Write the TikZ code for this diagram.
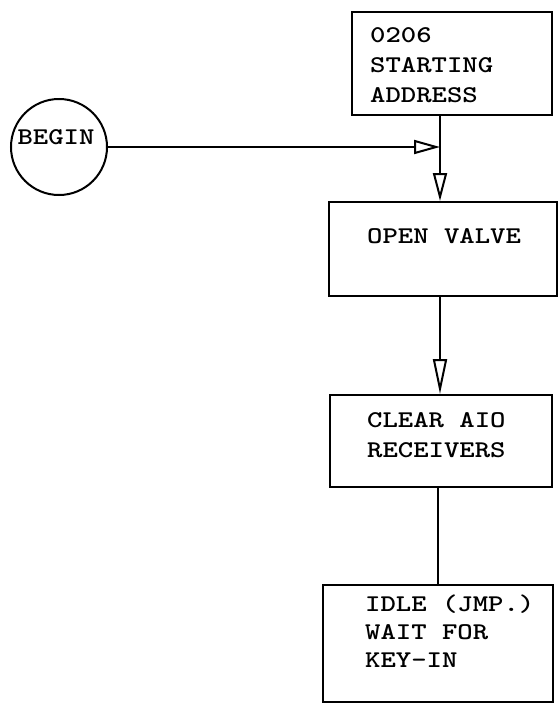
\documentclass[tikz,border=0pt]{standalone}
\usepackage{graphicx}
\usetikzlibrary{arrows.meta}
\newcommand\sx[1]{\scalebox{1.22}[1]{#1}}
\begin{document}
\begin{tikzpicture}[x=1pt,y=-1pt,
  box/.style={draw,line width=2pt,rectangle,inner sep=0pt},
  txt/.style={anchor=west,align=left,inner sep=0pt,font=\ttfamily\bfseries\fontsize{24}{30}\selectfont},
  conn/.style={line width=2pt},
  head/.style={-{Triangle[open,length=#1,width=14pt,line width=2pt]}}]
\useasboundingbox (0,0) rectangle (559,704);
\node[box,minimum width=200pt,minimum height=103pt] (b1) at (452,63.5) {};
\node[box,minimum width=228pt,minimum height=94pt] (b2) at (443,249) {};
\node[box,minimum width=222pt,minimum height=92pt] (b3) at (441,441) {};
\node[box,minimum width=230pt,minimum height=117pt] (b4) at (438,643.5) {};
\node[draw,circle,line width=2pt,minimum size=96pt,inner sep=0pt] (c) at (59,147) {};
\node[txt,anchor=center,inner sep=0pt] (tc) at (56,137) {\sx{BEGIN}};
\node[txt] (t1) at (370,65) {\sx{0206}\\\sx{STARTING}\\\sx{ADDRESS}};
\node[txt] (t2) at (367,236) {\sx{OPEN VALVE}};
\node[txt] (t3) at (367,435) {\sx{CLEAR AIO}\\\sx{RECEIVERS}};
\node[txt,font=\ttfamily\bfseries\fontsize{24}{28}\selectfont] (t4) at (365,631) {\sx{IDLE (JMP.)}\\\sx{WAIT FOR}\\\sx{KEY-IN}};
\coordinate (jx) at (440,0);
\coordinate (jy) at (438,0);
\draw[conn,head=26pt] (c.east) -- (c.east -| jx);
\draw[conn,head=28pt] (b1.south -| jx) -- (b2.north -| jx);
\draw[conn,head=35pt] (b2.south -| jx) -- (b3.north -| jx);
\draw[conn] (b3.south -| jy) -- (b4.north -| jy);
\end{tikzpicture}
\end{document}
